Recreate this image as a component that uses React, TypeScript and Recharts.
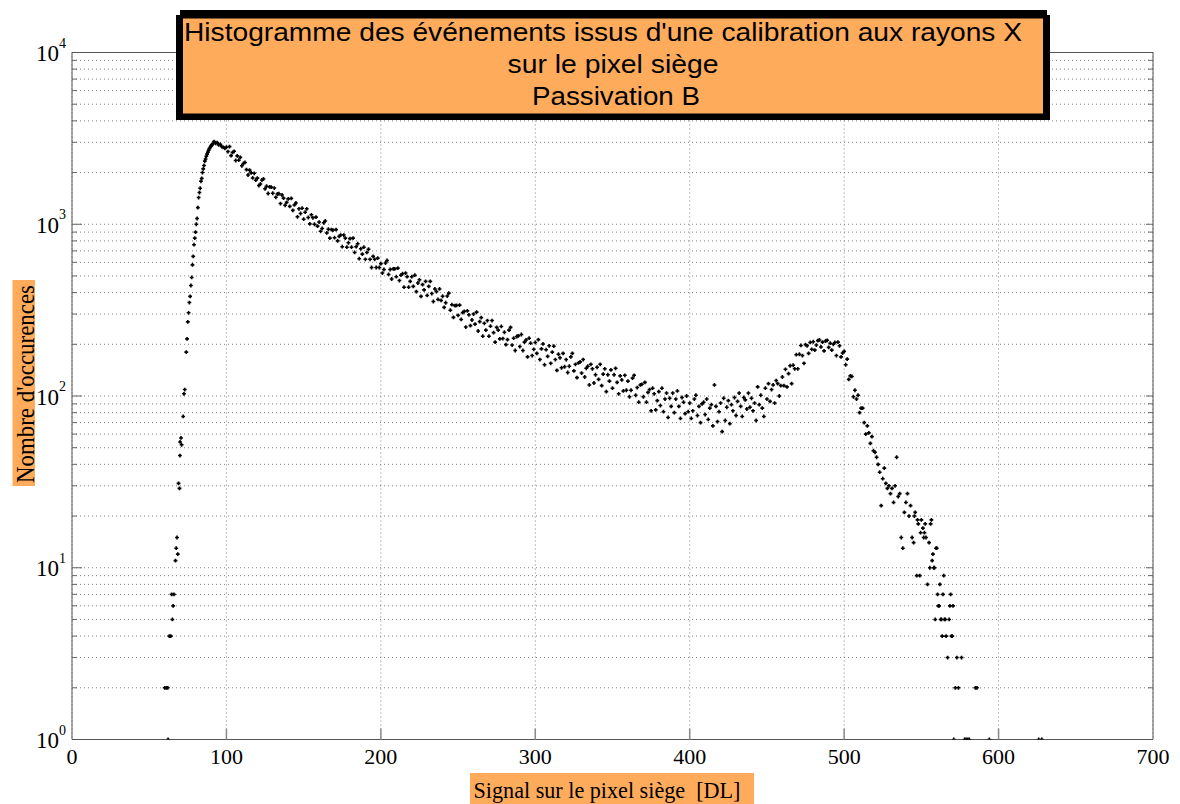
import React from 'react';
import { ScatterChart, Scatter, XAxis, YAxis, CartesianGrid, ReferenceLine } from 'recharts';

// Histogram bins (1 DL wide) starting at signal = 60
const binStart = 60;
const counts: number[] = [
  // 60-69
  2, 2, 2, 4, 4, 5, 7, 11, 15, 31,
  // 70-79
  54, 52, 76, 109, 180, 270, 350, 440, 580, 760,
  // 80-89
  900, 1080, 1430, 1620, 1850, 2100, 2330, 2490, 2630, 2760,
  // 90-99
  2850, 2920, 3030, 2960, 2990, 2900, 2920, 2830, 2800, 2770,
  // 100-109
  2810, 2650, 2830, 2510, 2620, 2660, 2350, 2500, 2360, 2450,
  // 110-119
  2190, 2260, 2290, 2080, 1935, 2065, 1990, 1860, 1980, 1805,
  // 120-129
  1855, 1680, 1715, 1810, 1835, 1610, 1665, 1510, 1650, 1645,
  // 130-139
  1515, 1625, 1435, 1500, 1505, 1320, 1480, 1420, 1290, 1340,
  // 140-149
  1405, 1270, 1415, 1205, 1295, 1330, 1105, 1230, 1155, 1240,
  // 150-159
  1070, 1175, 1230, 1095, 1005, 1135, 1090, 1000, 1100, 975,
  // 160-169
  1030, 910, 945, 1020, 1045, 890, 935, 830, 930, 925,
  // 170-179
  835, 930, 800, 850, 865, 740, 865, 830, 735, 780,
  // 180-189
  825, 735, 830, 685, 740, 770, 630, 720, 670, 735,
  // 190-199
  625, 685, 715, 625, 560, 650, 625, 560, 635, 560,
  // 200-209
  590, 520, 545, 595, 615, 510, 545, 480, 550, 550,
  // 210-219
  495, 555, 470, 505, 515, 430, 520, 495, 430, 465,
  // 220-229
  495, 435, 505, 405, 455, 475, 380, 445, 415, 465,
  // 230-239
  385, 435, 465, 395, 355, 420, 405, 365, 420, 360,
  // 240-249
  381, 328, 349, 382, 397, 316, 340, 287, 336, 337,
  // 250-259
  295, 338, 279, 306, 311, 252, 313, 297, 257, 277,
  // 260-269
  300, 262, 308, 239, 271, 286, 223, 265, 242, 275,
  // 270-279
  223, 255, 275, 234, 206, 251, 242, 215, 254, 216,
  // 280-289
  235, 199, 213, 242, 251, 198, 217, 184, 222, 224,
  // 290-299
  194, 228, 184, 206, 212, 169, 217, 203, 172, 187,
  // 300-309
  205, 177, 213, 163, 188, 201, 152, 186, 170, 196,
  // 310-319
  155, 180, 195, 163, 141, 175, 167, 146, 177, 148,
  // 320-329
  163, 137, 149, 169, 177, 140, 153, 128, 156, 158,
  // 330-339
  136, 163, 129, 145, 149, 116, 153, 144, 119, 133,
  // 340-349
  147, 125, 153, 115, 134, 144, 106, 133, 122, 142,
  // 350-359
  111, 133, 145, 120, 103, 131, 124, 107, 132, 108,
  // 360-369
  122, 99, 108, 127, 132, 101, 112, 92, 116, 117,
  // 370-379
  99, 120, 92, 105, 109, 82, 111, 103, 83, 94,
  // 380-389
  106, 88, 111, 81, 96, 104, 75, 97, 87, 104,
  // 390-399
  80, 96, 107, 87, 74, 98, 92, 79, 100, 81,
  // 400-409
  91, 74, 82, 96, 101, 77, 87, 70, 90, 92,
  // 410-419
  78, 96, 73, 85, 89, 67, 116, 87, 71, 81,
  // 420-429
  91, 62, 97, 72, 86, 94, 69, 89, 82, 98,
  // 430-439
  77, 93, 104, 87, 76, 98, 95, 84, 104, 86,
  // 440-449
  97, 82, 91, 72, 113, 89, 101, 85, 76, 111,
  // 450-459
  96, 118, 93, 109, 116, 91, 123, 118, 100, 115,
  // 460-469
  129, 115, 143, 113, 135, 150, 118, 151, 144, 174,
  // 470-479
  144, 175, 197, 172, 155, 199, 196, 177, 205, 187,
  // 480-489
  207, 185, 198, 210, 212, 193, 206, 183, 209, 211,
  // 490-499
  192, 203, 185, 200, 205, 172, 206, 196, 169, 178,
  // 500-509
  182, 152, 164, 125, 131, 130, 99, 108, 96, 101,
  // 510-519
  80, 85, 85, 70, 60, 67, 61, 53, 58, 48,
  // 520-529
  47, 44, 40, 36, 23, 33, 38, 31, 29, 30,
  // 530-539
  27, 29, 24, 30, 44, 26, 27, 15, 13, 21,
  // 540-549
  24, 27, 20, 23, 15, 14, 21, 9, 18, 9,
  // 550-559
  19, 17, 16, 15, 8, 14, 18, 11, 10, 5,
  // 560-569
  13, 6, 8, 5, 7, 5, 4, 3, 5, 7,
  // 570-579
  4, 1, 2, 3, 2, 0, 3, 0, 1, 1,
  // 580-586
  1, 1, 0, 0, 0, 2, 2,
];

// Additional points read between the integer bins
const extraSignal: number[] = [
  62.2, 64.5, 65.5, 67.5, 68.5, 69.6, 69.9, 70.6, 72.5, 74.5, 75.5, 76.5, 77.5, 78.5, 79.5,
  80.5, 81.5, 82.5, 83.5, 84.5, 85.5, 86.5, 87.5, 88.5, 89.5, 90.5, 91.5,
  545.5, 547.5, 549.5, 551.5, 552.5, 555.5, 556.5, 557.5, 558.5, 559.5, 560.5, 561.5,
  562.5, 563.5, 564.5, 565.5, 568.5, 569.5, 570.5, 594, 626, 628,
];
const extraCounts: number[] = [
  1, 7, 6, 13, 12, 29, 45, 57, 103, 215, 305, 380, 490, 650, 830,
  1000, 1250, 1530, 1780, 2000, 2200, 2400, 2560, 2700, 2800, 2900, 2960,
  20, 19, 16, 15, 18, 10, 19, 12, 10, 13, 7, 6,
  5, 4, 9, 5, 6, 4, 6, 1, 1, 1,
];

const xTicks: number[] = [0, 100, 200, 300, 400, 500, 600, 700];
const yTicks: number[] = [
  1, 2, 3, 4, 5, 6, 7, 8, 9,
  10, 20, 30, 40, 50, 60, 70, 80, 90,
  100, 200, 300, 400, 500, 600, 700, 800, 900,
  1000, 2000, 3000, 4000, 5000, 6000, 7000, 8000, 9000,
  10000,
];

const titleLines: string[] = [
  "Histogramme des événements issus d'une calibration aux rayons X",
  'sur le pixel siège',
  'Passivation B',
];
const xLabel = 'Signal sur le pixel siège  [DL]';
const yLabel = "Nombre d'occurences";

const data = [
  ...counts.map((c, i) => ({ x: binStart + i, y: c })),
  ...extraSignal.map((s, i) => ({ x: s, y: extraCounts[i] })),
].filter((d) => d.y > 0);

const W = 1180;
const H = 804;
const PLOT_LEFT = 72;
const PLOT_RIGHT = 1153;
const PLOT_TOP = 52.5;
const PLOT_BOTTOM = 739.5;
const ORANGE = '#FFAB5C';
const SERIF = "'Liberation Serif', 'Times New Roman', serif";
const SANS = "'Liberation Sans', Arial, sans-serif";

const Dot = (props: any) => {
  const { cx, cy } = props;
  if (cx == null || cy == null || !isFinite(cx) || !isFinite(cy)) return null;
  return (
    <path
      d={`M${cx - 1.9},${cy}h3.8M${cx},${cy - 1.9}v3.8`}
      stroke="#000"
      strokeWidth={1.6}
      fill="none"
    />
  );
};

const XTick = (props: any) => {
  const { x, y, payload } = props;
  const v = payload.value;
  return (
    <g>
      {v !== 0 && v !== 700 && (
        <line x1={x} y1={y} x2={x} y2={y - 11} stroke="#8a8a8a" strokeWidth={1.5} />
      )}
      <text x={x} y={y + 24.5} textAnchor="middle" fontFamily={SERIF} fontSize={22} fill="#000">
        {v}
      </text>
    </g>
  );
};

const YTick = (props: any) => {
  const { x, y, payload } = props;
  const v = payload.value;
  const lg = Math.log10(v);
  const exp = Math.round(lg);
  const major = Math.abs(lg - exp) < 1e-6;
  const len = major ? 10 : 5;
  return (
    <g>
      {v !== 1 && v !== 10000 && (
        <>
          <line x1={x} y1={y} x2={x + len} y2={y} stroke="#666" strokeWidth={1} />
          <line x1={PLOT_RIGHT} y1={y} x2={PLOT_RIGHT - (major ? 7 : 5)} y2={y} stroke="#666" strokeWidth={1} />
        </>
      )}
      {major && (
        <g>
          <text x={x - 13} y={y + 8.5} textAnchor="end" fontFamily={SERIF} fontSize={23} fill="#000">
            10
          </text>
          <text x={x - 13} y={y - 5} textAnchor="start" fontFamily={SERIF} fontSize={14} fill="#000">
            {exp}
          </text>
        </g>
      )}
    </g>
  );
};

export default function App() {
  return (
    <div style={{ position: 'absolute', left: 0, top: 0, width: W, height: H, background: '#fff' }}>
      <div style={{ position: 'absolute', left: 0, top: 0 }}>
        <ScatterChart
          width={W}
          height={H}
          margin={{ top: PLOT_TOP, right: W - PLOT_RIGHT, bottom: H - PLOT_BOTTOM - 30, left: PLOT_LEFT - 60 }}
        >
          <CartesianGrid
            stroke="#808080"
            strokeDasharray="1 3"
            horizontalValues={yTicks}
            verticalValues={xTicks}
          />
          <XAxis
            dataKey="x"
            type="number"
            domain={[0, 700]}
            ticks={xTicks}
            interval={0}
            tick={<XTick />}
            tickLine={false}
            tickSize={0}
            tickMargin={0}
            height={30}
            axisLine={{ stroke: '#555' }}
            allowDataOverflow
          />
          <YAxis
            dataKey="y"
            type="number"
            scale="log"
            domain={[1, 10000]}
            ticks={yTicks}
            interval={0}
            tick={<YTick />}
            tickLine={false}
            tickSize={0}
            tickMargin={0}
            width={60}
            axisLine={{ stroke: '#555' }}
            allowDataOverflow
          />
          <ReferenceLine x={700} stroke="#555" strokeWidth={1} />
          <ReferenceLine y={10000} stroke="#555" strokeWidth={1} />
          <Scatter data={data} shape={<Dot />} isAnimationActive={false} />
        </ScatterChart>
      </div>
      <svg
        width={W}
        height={H}
        style={{ position: 'absolute', left: 0, top: 0, pointerEvents: 'none' }}
      >
        {/* Title box */}
        <rect x={180} y={10} width={867} height={106} fill="#000" />
        <rect x={176} y={15} width={874} height={105} fill="#000" />
        <rect x={183} y={18.5} width={860} height={95} fill={ORANGE} />
        <text x={184} y={41} fontFamily={SANS} fontSize={26} textLength={838} lengthAdjust="spacingAndGlyphs" fill="#000">
          {titleLines[0]}
        </text>
        <text x={613} y={73} textAnchor="middle" fontFamily={SANS} fontSize={26} textLength={211} lengthAdjust="spacingAndGlyphs" fill="#000">
          {titleLines[1]}
        </text>
        <text x={616} y={105} textAnchor="middle" fontFamily={SANS} fontSize={26} textLength={168} lengthAdjust="spacingAndGlyphs" fill="#000">
          {titleLines[2]}
        </text>

        {/* Y axis label */}
        <rect x={12.5} y={280} width={22.5} height={206} fill={ORANGE} />
        <text
          transform="translate(33.5,384) rotate(-90)"
          textAnchor="middle"
          fontFamily={SERIF}
          fontSize={25}
          textLength={198}
          lengthAdjust="spacingAndGlyphs"
          fill="#000"
        >
          {yLabel}
        </text>

        {/* X axis label */}
        <rect x={470} y={773} width={284} height={31} fill={ORANGE} />
        <text
          x={473.5}
          y={798}
          fontFamily={SERIF}
          fontSize={24}
          textLength={267}
          lengthAdjust="spacingAndGlyphs"
          fill="#000"
          style={{ whiteSpace: 'pre' }}
          xmlSpace="preserve"
        >
          {xLabel}
        </text>
      </svg>
    </div>
  );
}
